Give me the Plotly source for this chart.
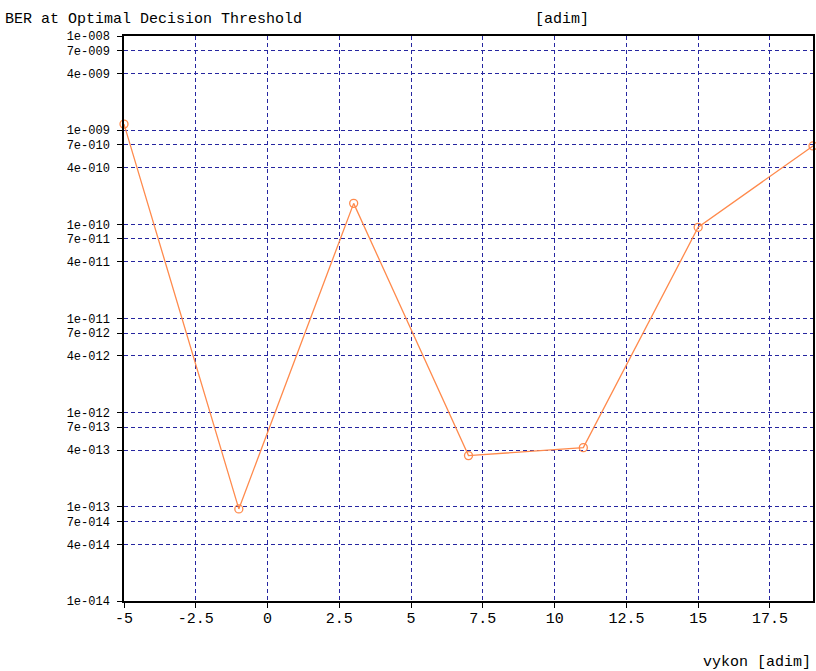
import plotly.graph_objects as go

# Data
vykon = [-5, -1, 3, 7, 11, 15, 19]
ber = [1.16e-9, 9.5e-14, 1.67e-10, 3.5e-13, 4.25e-13, 9.3e-11, 6.8e-10]

y_tick_vals = [1e-14, 4e-14, 7e-14, 1e-13, 4e-13, 7e-13, 1e-12, 4e-12, 7e-12,
               1e-11, 4e-11, 7e-11, 1e-10, 4e-10, 7e-10, 1e-9, 4e-9, 7e-9, 1e-8]
y_tick_text = ["1e-014", "4e-014", "7e-014", "1e-013", "4e-013", "7e-013", "1e-012",
               "4e-012", "7e-012", "1e-011", "4e-011", "7e-011", "1e-010", "4e-010",
               "7e-010", "1e-009", "4e-009", "7e-009", "1e-008"]
x_tick_vals = [-5, -2.5, 0, 2.5, 5, 7.5, 10, 12.5, 15, 17.5]
x_tick_text = ["-5", "-2.5", "0", "2.5", "5", "7.5", "10", "12.5", "15", "17.5"]

FONT = "Liberation Mono"
GRID = "#2626a0"
LINE = "#ff8a4c"

fig = go.Figure()
fig.add_trace(go.Scatter(
    x=vykon, y=ber, mode="lines+markers",
    line=dict(color=LINE, width=1.3),
    marker=dict(symbol="circle-open", size=8, color=LINE, line=dict(width=1.3)),
    cliponaxis=False, showlegend=False, hoverinfo="skip",
))

fig.update_layout(
    width=816, height=671,
    paper_bgcolor="white", plot_bgcolor="white",
    margin=dict(l=124, r=1, t=36, b=70),
    font=dict(family=FONT, size=15, color="black"),
    title=dict(text="BER at Optimal Decision Threshold", xref="container", yref="container",
               x=0.006, y=0.973, xanchor="left", yanchor="middle",
               font=dict(family=FONT, size=15, color="black")),
    annotations=[
        dict(text="[adim]", xref="paper", yref="paper", x=0.635, y=1.03,
             showarrow=False, xanchor="center", yanchor="middle",
             font=dict(family=FONT, size=15, color="black")),
        dict(text="vykon [adim]", xref="paper", yref="paper", x=1.0, y=-0.108,
             showarrow=False, xanchor="right", yanchor="middle",
             font=dict(family=FONT, size=15, color="black")),
    ],
)

fig.update_xaxes(
    range=[-5, 19], tickmode="array", tickvals=x_tick_vals, ticktext=x_tick_text,
    showgrid=True, gridcolor=GRID, griddash="4px,3px", gridwidth=1,
    zeroline=False, showline=True, linecolor="black", linewidth=1.5, mirror=True,
    ticks="outside", ticklen=5, tickcolor="black", tickfont=dict(family=FONT, size=15),
    ticklabelstandoff=-3,
)
fig.update_yaxes(
    type="log", range=[-14, -8], tickmode="array", tickvals=y_tick_vals, ticktext=y_tick_text,
    showgrid=True, gridcolor=GRID, griddash="4px,3px", gridwidth=1,
    zeroline=False, showline=True, linecolor="black", linewidth=1.5, mirror=True,
    ticks="outside", ticklen=5, tickcolor="black", tickfont=dict(family=FONT, size=12),
    ticklabelstandoff=5,
)

fig.write_html("out.html", config={"displayModeBar": False},
               post_script="document.body.style.margin='0px';")
